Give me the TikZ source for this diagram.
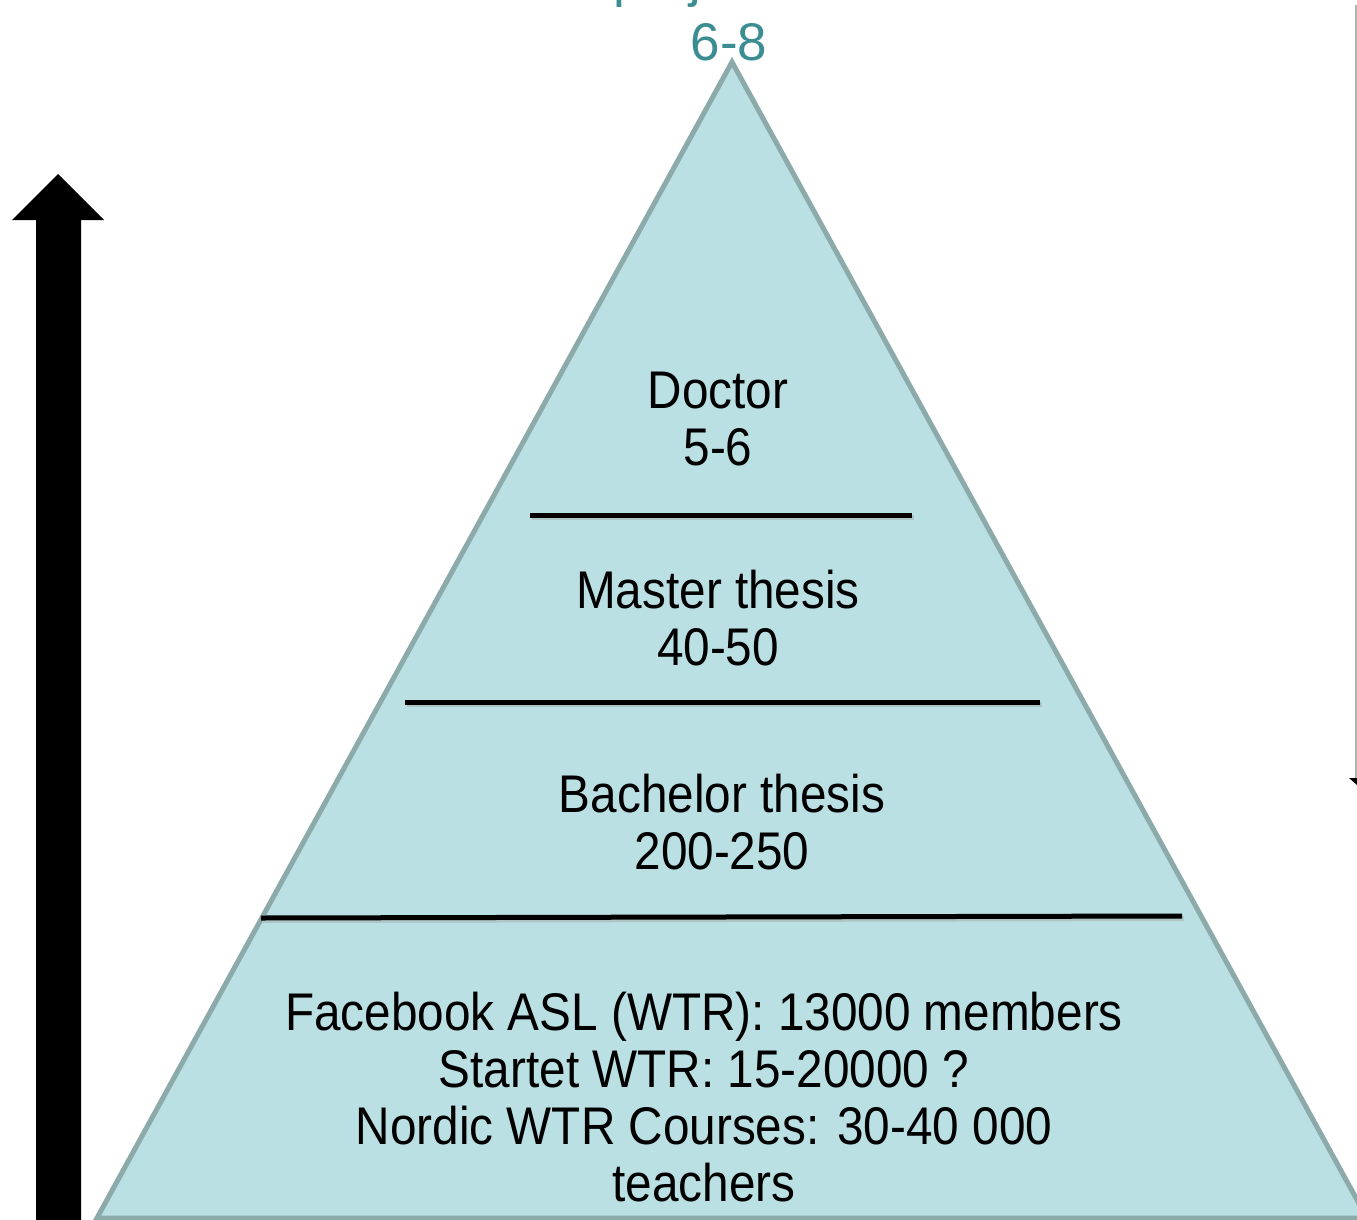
\documentclass[tikz,border=0pt]{standalone}
\usepackage{fontspec}
\setmainfont{Liberation Sans}
\newfontfamily\lblfont[FakeStretch=0.9]{Liberation Sans}
\definecolor{pyrfill}{HTML}{BAE0E3}
\definecolor{pyredge}{HTML}{8DAAAB}
\definecolor{tealtext}{HTML}{3B8D92}
\begin{document}
\begin{tikzpicture}[x=1pt,y=-1pt,
  lbl/.style={inner sep=0pt,align=center,font=\lblfont\fontsize{53}{57}\selectfont,text=black},
  divider/.style={line width=5pt,black},
]
\useasboundingbox (0,0) rectangle (1357,1220);
% top (cut off) title
\begin{scope}
\clip (0,0) rectangle (1357,1220);
\node[inner sep=0pt,anchor=base west,font=\fontsize{53}{57}\selectfont,text=tealtext] (toptitle) at (613,-3) {projects};
\end{scope}
\node[inner sep=0pt,anchor=base,font=\fontsize{53}{57}\selectfont,text=tealtext] (topnum) at (729,61) {6-8};
% pyramid
\coordinate (apex) at (732,62);
\coordinate (bl) at (97,1218);
\coordinate (br) at (1367,1218);
\filldraw[fill=pyrfill,draw=pyredge,line width=5pt,line join=miter] (apex) -- (br) -- (bl) -- cycle;
% dividers (with soft shadow)
\coordinate (d1a) at (530,515); \coordinate (d1b) at (912,515);
\coordinate (d2a) at (405,702); \coordinate (d2b) at (1040,702);
\coordinate (d3a) at (261,918); \coordinate (d3b) at (1182,916);
\begin{scope}[transform canvas={shift={(1.5pt,-2.5pt)}}]
\draw[line width=5pt,pyredge!70] (d1a) -- (d1b);
\draw[line width=5pt,pyredge!70] (d2a) -- (d2b);
\draw[line width=5pt,pyredge!70] (d3a) -- (d3b);
\end{scope}
\draw[divider] (d1a) -- (d1b);
\draw[divider] (d2a) -- (d2b);
\draw[divider] (d3a) -- (d3b);
% labels
\node[lbl] (doctor) at (718,419.5) {Doctor\\5-6};
\node[lbl] (master) at (718,618.5) {Master thesis\\40-50};
\node[lbl] (bachelor) at (722,822.5) {Bachelor thesis\\200-250};
\node[lbl] (base) at (704,1097) {Facebook ASL (WTR): 13000 members\\Startet WTR: 15-20000 ?\\Nordic WTR Courses: 30-40 000\\teachers};
% left big arrow
\fill[black] (36,1220) -- (36,220) -- (12,220) -- (58,174) -- (104,220) -- (81,220) -- (81,1220) -- cycle;
% right thin line with arrow tip
\coordinate (rtop) at (1356,5);
\coordinate (rbot) at (1356,778);
\draw[gray!60,line width=1.5pt] (rtop) -- (rbot);
\fill[black] (1349,778) -- (1357,778) -- (1357,785) -- cycle;
\end{tikzpicture}
\end{document}
